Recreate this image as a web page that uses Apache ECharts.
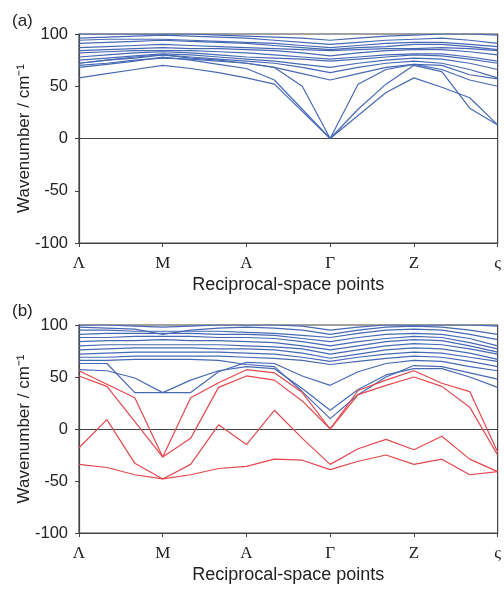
<!DOCTYPE html>
<html>
<head>
<meta charset="utf-8">
<title>Phonon dispersion</title>
<script src="https://cdn.jsdelivr.net/npm/echarts@6/dist/echarts.min.js"></script>
<style>
  html, body { margin: 0; padding: 0; background: #ffffff; }
  #chart { width: 504px; height: 591px; }
</style>
</head>
<body>
<div id="chart"></div>
<script>
// High-symmetry points along the path; each segment is sampled at two interior points.
const pathLabels = ['Λ', 'M', 'A', 'Γ', 'Z', 'ς'];
const samplesPerSegment = 3;
const yTicks = [-100, -50, 0, 50, 100];

// (a) branches, wavenumbers in cm^-1 at the 16 path samples
const bandsA = [
  [100, 100, 100, 100, 100, 99, 98, 97, 96, 94, 96, 98, 99, 100, 100, 99],
  [96, 97, 98, 99, 98, 97, 96, 94, 92, 90, 92, 94, 95, 96, 94, 91],
  [94, 95, 95, 95, 94, 93, 92, 91, 89, 87, 89, 91, 92, 92, 90, 88],
  [91, 92, 93, 94, 93, 92, 91, 89, 87, 85, 87, 88, 90, 90, 88, 85],
  [87, 88, 89, 90, 89, 88, 87, 86, 85, 84, 85, 86, 86, 87, 86, 84],
  [84, 85, 86, 87, 86, 86, 85, 84, 82, 79, 82, 84, 85, 85, 83, 80],
  [82, 83, 84, 84, 84, 83, 82, 80, 78, 76, 78, 80, 81, 81, 78, 74],
  [78, 80, 82, 83, 82, 80, 78, 77, 76, 74, 76, 78, 80, 79, 76, 72],
  [75, 77, 79, 81, 80, 78, 76, 74, 71, 68, 72, 75, 77, 76, 72, 66],
  [72, 75, 78, 80, 78, 76, 74, 72, 68, 63, 68, 72, 74, 72, 66, 58],
  [70, 72, 75, 77, 76, 74, 72, 68, 62, 56, 62, 68, 71, 70, 61, 57],
  [72, 75, 77, 80, 77, 75, 72, 68, 50, 0, 52, 66, 71, 66, 56, 50],
  [68, 71, 74, 78, 75, 71, 67, 56, 28, 0, 28, 52, 70, 64, 29, 13],
  [58, 62, 66, 70, 67, 63, 58, 52, 26, 0, 22, 44, 58, 49, 39, 13]
];

// (b) real branches
const bandsB = [
  [100, 100, 99, 98, 99, 100, 100, 100, 99, 95, 98, 100, 100, 100, 100, 99],
  [98, 97, 96, 91, 95, 97, 98, 97, 95, 91, 95, 98, 99, 98, 95, 91],
  [95, 95, 94, 94, 94, 94, 93, 92, 90, 88, 92, 95, 96, 95, 91, 86],
  [91, 92, 92, 92, 92, 91, 91, 90, 87, 84, 88, 91, 92, 91, 87, 80],
  [88, 88, 89, 89, 89, 88, 88, 87, 84, 80, 84, 87, 89, 88, 83, 77],
  [84, 85, 85, 86, 85, 85, 84, 83, 80, 76, 80, 84, 86, 85, 80, 74],
  [80, 81, 81, 81, 81, 81, 80, 79, 77, 72, 76, 80, 82, 81, 77, 72],
  [76, 77, 78, 78, 78, 77, 77, 76, 73, 68, 72, 76, 78, 77, 73, 67],
  [72, 73, 74, 74, 74, 74, 73, 72, 69, 65, 69, 72, 74, 73, 69, 65],
  [69, 69, 70, 70, 70, 70, 69, 68, 66, 62, 65, 68, 70, 69, 65, 60],
  [63, 63, 35, 35, 35, 55, 64, 63, 51, 42, 55, 63, 66, 65, 60, 56],
  [57, 56, 49, 35, 47, 56, 60, 58, 39, 18, 38, 52, 58, 58, 50, 40],
  [66, 66, 67, 67, 67, 66, 62, 60, 36, 10, 33, 50, 61, 60, 54, 48]
];

// (b) imaginary (unstable) branches, plotted as negative wavenumbers
const softB = [
  [56, 43, 30, -27, 30, 44.5, 57, 54, 35, 0, 37, 47, 56, 44, 36, -22],
  [51, 41, 7, -27, -9, 40, 51, 47, 27, 0, 33, 42, 50, 41, 21, -25],
  [-18, 9, -33, -48, -34, 4, -15, 18, -9, -34, -19, -10, -20, -7, -29, -41],
  [-34, -37, -44, -48, -44, -38, -36, -29, -30, -39, -31, -25, -34, -29, -44, -41]
];

const BLUE = '#4769b4';
const RED = '#e3474d';
const AXIS = '#444444';
const SANS = 'Liberation Sans, Arial, sans-serif';
const SERIF = 'Liberation Serif, Times New Roman, serif';
const xMax = (pathLabels.length - 1) * samplesPerSegment;

function toPoints(values) {
  return values.map((v, i) => [i, v]);
}

function makeSeries(bands, color, gridIndex, withZeroLine) {
  return bands.map((values, k) => {
    const s = {
      type: 'line',
      xAxisIndex: gridIndex,
      yAxisIndex: gridIndex,
      data: toPoints(values),
      showSymbol: false,
      symbol: 'none',
      silent: true,
      animation: false,
      clip: true,
      lineStyle: { color: color, width: 1.2 },
      z: 3
    };
    if (withZeroLine && k === 0) {
      s.markLine = {
        silent: true,
        symbol: 'none',
        animation: false,
        label: { show: false },
        lineStyle: { color: AXIS, width: 1.2, type: 'solid' },
        data: [{ yAxis: 0 }],
        z: 2
      };
    }
    return s;
  });
}

function xAxisFor(gridIndex) {
  return {
    type: 'value',
    gridIndex: gridIndex,
    min: 0,
    max: xMax,
    interval: samplesPerSegment,
    name: 'Reciprocal-space points',
    nameLocation: 'middle',
    nameGap: 33,
    nameMoveOverlap: false,
    nameTextStyle: { fontFamily: SANS, fontSize: 18, color: '#222' },
    axisLine: { show: true, onZero: false, lineStyle: { color: AXIS, width: 1.2 } },
    axisTick: { show: true, inside: false, length: 4, lineStyle: { color: AXIS } },
    axisLabel: {
      margin: 12,
      fontFamily: SERIF,
      fontSize: 17,
      color: '#222',
      showMaxLabel: true,
      formatter: v => pathLabels[Math.round(v / samplesPerSegment)] || ''
    },
    splitLine: { show: false }
  };
}

function yAxisFor(gridIndex) {
  return {
    type: 'value',
    gridIndex: gridIndex,
    min: yTicks[0],
    max: yTicks[yTicks.length - 1],
    interval: yTicks[1] - yTicks[0],
    name: 'Wavenumber / cm⁻¹',
    nameLocation: 'middle',
    nameGap: 46,
    nameMoveOverlap: false,
    nameRotate: 90,
    nameTextStyle: { fontFamily: SANS, fontSize: 17, color: '#222' },
    axisLine: { show: true, lineStyle: { color: AXIS, width: 1.2 } },
    axisTick: { show: true, inside: false, length: 4, lineStyle: { color: AXIS } },
    axisLabel: {
      margin: 11,
      fontFamily: SANS,
      fontSize: 16.5,
      color: '#222'
    },
    splitLine: { show: false }
  };
}

const chart = echarts.init(document.getElementById('chart'), null, { renderer: 'canvas' });

chart.setOption({
  backgroundColor: '#ffffff',
  animation: false,
  title: [
    { text: '(a)', left: 7, top: 8, textStyle: { fontFamily: SANS, fontSize: 17, fontWeight: 'normal', color: '#222' } },
    { text: '(b)', left: 7, top: 298, textStyle: { fontFamily: SANS, fontSize: 17, fontWeight: 'normal', color: '#222' } }
  ],
  grid: [
    { left: 79, right: 3, top: 34, height: 209, show: true, borderColor: AXIS, borderWidth: 1.2, backgroundColor: 'transparent' },
    { left: 79, right: 3, top: 325, height: 208, show: true, borderColor: AXIS, borderWidth: 1.2, backgroundColor: 'transparent' }
  ],
  xAxis: [xAxisFor(0), xAxisFor(1)],
  yAxis: [yAxisFor(0), yAxisFor(1)],
  series: [
    ...makeSeries(bandsA, BLUE, 0, true),
    ...makeSeries(bandsB, BLUE, 1, true),
    ...makeSeries(softB, RED, 1, false)
  ]
});
</script>
</body>
</html>
